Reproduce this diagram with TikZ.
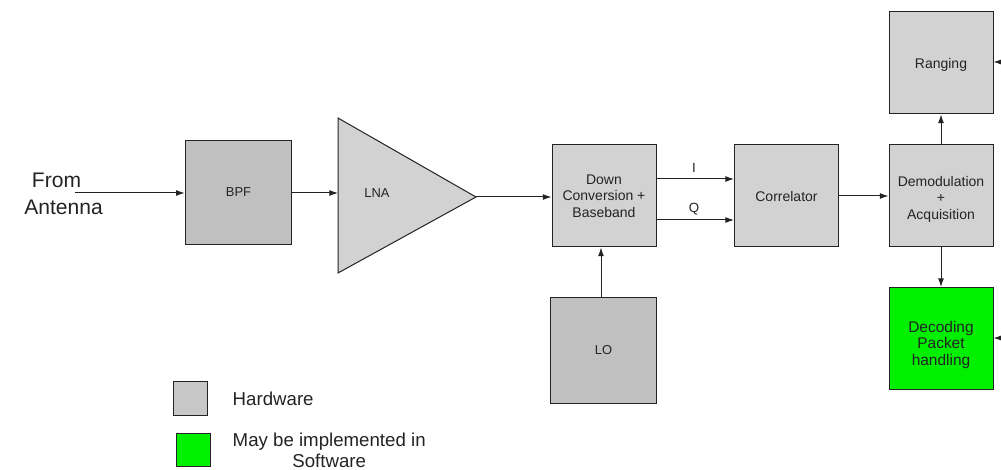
\documentclass[tikz,border=0pt]{standalone}
\usepackage{fontspec}
\setmainfont{Liberation Sans}
\usetikzlibrary{arrows.meta}
\definecolor{hwdark}{RGB}{192,192,192}
\definecolor{hwlight}{RGB}{210,210,210}
\definecolor{hwkey}{RGB}{200,200,200}
\definecolor{swgreen}{RGB}{0,240,0}
\definecolor{ink}{RGB}{35,35,35}
\tikzset{
  blockbox/.style={draw=ink, line width=0.75pt, fill=hwlight,
    minimum width=78pt, minimum height=76.5pt, inner sep=0pt,
    align=center, text=ink, font=\fontsize{10.5}{12.2}\selectfont},
  darkbox/.style={blockbox, fill=hwdark, font=\fontsize{9.7}{12}\selectfont},
  boxtext/.style={align=center, text=ink, inner sep=0pt},
  keybox/.style={draw=ink, line width=0.75pt, minimum width=26pt,
    minimum height=25pt, inner sep=0pt},
  keytext/.style={anchor=west, align=center, text=ink, font=\fontsize{14}{16}\selectfont},
  arr/.style={-{Latex[length=6.5pt,width=4.5pt]}, line width=0.75pt, ink},
}
\begin{document}
\begin{tikzpicture}[x=0.75pt, y=-0.75pt]
\useasboundingbox (0,0) rectangle (1001,470);

% processing chain
\node[darkbox, minimum width=80pt, minimum height=78pt] (bpf) at (238.5,192.5) {BPF};
\coordinate (lnaTop) at (338,118);
\coordinate (lnaBot) at (338,273);
\coordinate (lnaTip) at (476,197);
\draw[draw=ink, line width=0.75pt, fill=hwlight] (lnaTop) -- (lnaTip) -- (lnaBot) -- cycle;
\node[boxtext, font=\fontsize{9.7}{12}\selectfont] (lna) at (377,193) {LNA};
\coordinate (lnaIn) at (338,193);

\node[blockbox] (down) at (604,196) {Down\\Conversion +\\Baseband};
\node[blockbox] (corr) at (786.5,196) {Correlator};
\node[blockbox] (demod) at (941,196) {};
\node[boxtext, font=\fontsize{10.5}{12.4}\selectfont] (demodtext) at (941,199) {Demodulation\\+\\Acquisition};
\node[blockbox] (rang) at (941,63) {};
\node[boxtext, font=\fontsize{10.5}{12.4}\selectfont] (rangtext) at (941,65) {Ranging};
\node[blockbox, fill=swgreen] (dec) at (941,338.5) {};
\node[boxtext, font=\fontsize{11.6}{12.6}\selectfont] (dectext) at (941,345) {Decoding\\Packet\\handling};
\node[darkbox, minimum width=80pt, minimum height=79pt] (lo) at (603.5,350.5) {LO};

% antenna input
\node[boxtext, font=\fontsize{15.8}{19}\selectfont] (from) at (56.5,180) {From};
\node[boxtext, font=\fontsize{15.8}{19}\selectfont] (antenna) at (63.5,207) {Antenna};
\coordinate (antEnd) at (75,193);

% connectors
\draw[arr] (antEnd) -- (bpf.west |- antEnd);
\draw[arr] (bpf.east |- lnaIn) -- (lnaIn);
\draw[arr] (lnaTip) -- (down.west |- lnaTip);
\coordinate (iLine) at (0,179);
\coordinate (qLine) at (0,220);
\draw[arr] (down.east |- iLine) -- (corr.west |- iLine);
\draw[arr] (down.east |- qLine) -- (corr.west |- qLine);
\node[boxtext, font=\fontsize{10}{12}\selectfont] (ilab) at (694,168) {I};
\node[boxtext, font=\fontsize{10}{12}\selectfont] (qlab) at (694,209) {Q};
\draw[arr] (corr.east) -- (demod.west);
\draw[arr] (demod.north) -- (rang.south);
\draw[arr] (demod.south) -- (dec.north);
\draw[arr] (lo.north -| 601,0) -- (down.south -| 601,0);
\coordinate (rangIn) at (1001,62);
\coordinate (decIn) at (1001,338);
\draw[arr] (rangIn) -- (rang.east |- rangIn);
\draw[arr] (decIn) -- (dec.east |- decIn);

% legend
\node[keybox, fill=hwkey] (keyhw) at (190.5,398.5) {};
\node[keytext] (keyhwtext) at (228,399) {Hardware};
\node[keybox, fill=swgreen] (keysw) at (193.5,450) {};
\node[keytext] (keyswtext) at (228,450) {May be implemented in\\Software};
\end{tikzpicture}
\end{document}
